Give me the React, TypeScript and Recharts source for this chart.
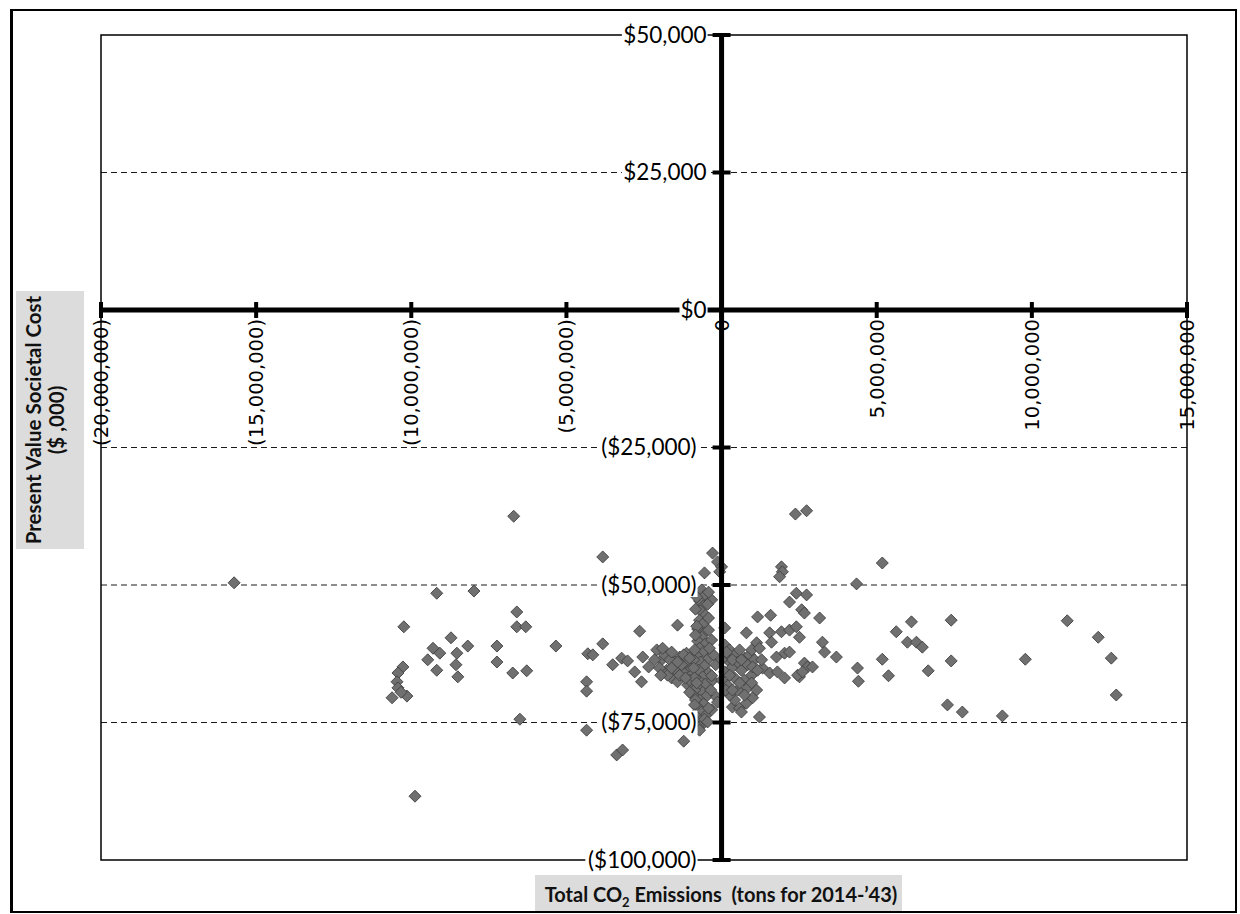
import React from 'react';
import {
  ScatterChart,
  Scatter,
  XAxis,
  YAxis,
  ReferenceLine,
  ReferenceDot,
  ReferenceArea,
} from 'recharts';

// Total CO2 emissions (tons, 2014-'43) for each scenario
const emissions: number[] = [
  -15.71e6, -10.24e6, -10.27e6, -10.43e6, -10.46e6, -10.43e6, -10.62e6, -10.14e6, -10.33e6, -9.88e6,
  -9.18e6, -7.98e6, -8.72e6, -8.18e6, -9.3e6, -9.08e6, -9.47e6, -8.53e6, -8.56e6, -8.5e6,
  -9.18e6, -7.24e6, -7.24e6, -6.73e6, -6.28e6, -6.7e6, -6.6e6, -6.6e6, -6.31e6, -6.5e6,
  -5.34e6, -3.83e6, -4.35e6, -4.35e6, -4.35e6, -3.38e6, -3.19e6, -4.31e6, -4.15e6, -3.83e6,
  -3.51e6, -3.22e6, -3.03e6, -2.8e6, -2.58e6, -2.54e6, -2.35e6, -2.64e6, -1.42e6, -1.22e6,
  -0.55e6, -0.29e6, -0.13e6, 0.0, -0.06e6,
  -0.64e6, -0.55e6, -0.71e6, -0.58e6, -0.68e6, -0.52e6, -0.71e6, -0.61e6, -0.77e6, -0.55e6,
  -0.64e6, -0.77e6, -0.52e6, -0.71e6, -0.58e6, -0.8e6, -0.45e6, -0.68e6, -0.55e6, -0.74e6,
  -0.42e6, -0.61e6, -0.71e6, -0.52e6, -0.77e6, -0.61e6, -0.48e6, -0.71e6, -0.58e6, -0.74e6,
  -0.64e6, -0.52e6, -0.71e6, -0.61e6, -0.77e6,
  -0.32e6, -0.32e6, -0.26e6, -0.19e6, -0.29e6, -0.16e6, -0.13e6, -0.32e6, -0.55e6,
  -2.09e6, -1.93e6, -1.77e6, -1.61e6, -1.42e6, -1.74e6, -1.35e6, -1.13e6, -1.03e6, -1.26e6,
  -1.51e6, -1.19e6, -0.97e6, -1.09e6, -0.9e6, -2.0e6, -1.84e6, -1.67e6, -1.48e6, -1.29e6,
  -1.03e6, -0.87e6, -0.93e6, -0.84e6,
  0.1e6, 0.26e6, 0.42e6, 0.58e6, 0.19e6, 0.52e6, 0.74e6, 0.9e6, 0.32e6, 0.64e6,
  0.84e6, 1.06e6, 0.1e6, 0.42e6, 0.74e6, 0.97e6, 0.19e6, 0.52e6, 0.84e6, 0.97e6,
  1.13e6, 0.97e6, 1.22e6, 0.1e6, 0.35e6, 0.58e6, 0.8e6, 1.0e6, 0.42e6, 1.22e6,
  0.26e6, 0.64e6, 0.8e6, 1.55e6, 1.61e6, 1.93e6, 2.19e6, 2.41e6, 2.51e6, 1.16e6,
  1.58e6, 2.41e6, 2.74e6, 2.19e6, 2.58e6, 2.67e6, 3.16e6, 3.25e6, 3.32e6, 3.7e6,
  1.77e6, 2.03e6, 2.19e6, 1.0e6, 1.32e6, 1.55e6, 1.8e6, 2.03e6, 2.51e6, 2.67e6,
  2.77e6, 2.93e6, 2.45e6, 2.61e6, 1.93e6, 1.96e6, 1.87e6, 2.38e6, 2.74e6,
  4.35e6, 5.18e6, 6.12e6, 7.4e6, 11.14e6, 5.63e6, 12.14e6, 5.99e6, 6.28e6, 6.47e6,
  5.18e6, 7.4e6, 9.79e6, 12.56e6, 5.38e6, 6.66e6, 4.38e6, 4.41e6, 12.72e6, 7.28e6,
  7.76e6, 9.05e6,
  -0.42e6, -0.8e6, -0.45e6, -0.84e6, -0.42e6, -0.8e6, -0.42e6, -0.84e6, -0.39e6, -0.87e6,
  -0.9e6, -0.32e6, -0.87e6, -0.35e6, -0.87e6, -0.42e6, -0.87e6, -0.45e6, -0.93e6, -0.71e6,
  -2.16e6, -1.9e6, -1.61e6, -1.42e6, -1.22e6, -1.03e6, -1.61e6, -1.35e6, -1.16e6, -1.96e6,
  -0.8e6, -1.03e6,
  0.16e6, 0.35e6, 0.64e6, 0.26e6, 0.58e6, 0.0, 0.0, 0.13e6, 1.13e6, 0.35e6,
  0.74e6, 1.16e6, 1.29e6,
];

// Present value societal cost ($ ,000) for each scenario
const societalCost: number[] = [
  -49600, -57600, -64900, -66000, -67600, -68700, -70500, -70200, -69500, -88400,
  -51500, -51100, -59600, -61100, -61500, -62400, -63600, -62400, -64500, -66700,
  -65500, -61100, -64000, -66000, -65600, -37500, -54900, -57600, -57600, -74400,
  -61100, -44900, -67600, -69300, -76400, -80900, -80000, -62500, -62700, -60700,
  -64500, -63300, -63800, -65800, -67600, -63100, -64900, -58400, -57300, -78400,
  -47800, -44200, -45800, -46700, -47600,
  -50900, -52000, -52900, -53800, -54700, -55500, -56400, -57100, -58000, -58700,
  -59500, -60200, -60700, -61500, -62200, -62900, -63500, -64000, -64700, -65500,
  -66000, -66700, -67500, -68000, -68700, -69500, -70200, -70900, -71600, -72400,
  -73100, -73800, -74500, -75300, -75800,
  -52700, -60000, -62700, -64500, -67300, -70400, -71300, -72700, -74400,
  -61800, -63600, -65500, -66900, -67600, -66400, -63100, -62400, -64900, -65800,
  -64000, -64200, -66400, -68200, -63600, -65100, -62700, -63600, -65500, -64500,
  -67300, -69100, -70000, -70900,
  -60900, -61800, -62700, -61800, -63600, -64000, -63300, -62700, -65100, -65500,
  -64500, -63600, -65800, -66900, -67300, -66400, -68200, -69100, -68700, -67800,
  -60500, -61800, -61500, -57800, -72200, -72400, -71500, -70500, -70900, -74000,
  -70000, -73100, -58700, -58700, -60400, -58500, -58200, -57600, -59500, -55800,
  -55500, -51500, -51800, -53100, -54500, -55100, -56000, -60400, -62200, -63100,
  -63100, -62400, -62200, -64900, -65100, -66000, -65800, -66900, -66700, -64200,
  -64900, -64900, -66400, -65800, -46700, -47600, -48500, -37100, -36500,
  -49800, -46000, -56700, -56400, -56500, -58500, -59500, -60400, -60400, -61300,
  -63500, -63800, -63500, -63300, -66500, -65600, -65100, -67500, -70000, -71800,
  -73100, -73800,
  -51300, -52200, -53500, -54400, -56000, -57500, -58200, -59100, -61500, -61800,
  -65100, -66500, -66900, -69100, -71800, -72400, -73600, -74900, -74900, -76400,
  -63600, -61500, -62200, -64000, -62700, -63300, -65100, -66400, -66900, -66400,
  -67800, -69500,
  -62200, -63600, -63600, -66400, -67800, -63600, -67300, -69100, -69100, -69100,
  -70000, -65500, -63600,
];

const xTicks: number[] = [-20e6, -15e6, -10e6, -5e6, 0, 5e6, 10e6, 15e6];
const yTicks: number[] = [50000, 25000, 0, -25000, -50000, -75000, -100000];
const gridValues: number[] = [25000, -25000, -50000, -75000];
const xDomain: [number, number] = [-20e6, 15e6];
const yDomain: [number, number] = [-100000, 50000];

const yTitleLines = ['Present Value Societal Cost', '($ ,000)'];
const xTitle = 'Total CO';
const xTitleSub = '2';
const xTitleRest = ' Emissions  (tons for 2014-\u201943)';

const points = emissions.map((x, i) => ({ x, y: societalCost[i] }));

const fmtX = (v: number) => {
  const s = Math.abs(v).toLocaleString('en-US');
  return v < 0 ? `(${s})` : s;
};
const fmtY = (v: number) => {
  const s = '$' + Math.abs(v).toLocaleString('en-US');
  return v < 0 ? `(${s})` : s;
};

const Y_FONT = 22.5;
const charW = (c: string) => {
  if (c === '(' || c === ')') return 0.3;
  if (c === ',') return 0.24;
  return 0.58;
};
const textWidth = (s: string, fs: number) =>
  s.split('').reduce((a, c) => a + charW(c), 0) * fs;

const Diamond = (props: any) => {
  const { cx, cy } = props;
  if (cx == null || cy == null) return null;
  const r = 6;
  return (
    <polygon
      points={`${cx},${cy - r} ${cx + r},${cy} ${cx},${cy + r} ${cx - r},${cy}`}
      fill="#707070"
      stroke="#404040"
      strokeWidth={0.9}
    />
  );
};

const YTick = ({ cx, cy, value }: any) => {
  const label = fmtY(value);
  const end = value < 0 ? cx - 25 : cx - 15;
  const w = textWidth(label, Y_FONT);
  return (
    <g>
      <rect x={end - w - 1} y={cy - 12} width={w + 2} height={24} fill="#ffffff" />
      <text
        x={end}
        y={cy}
        dy="0.35em"
        textAnchor="end"
        fontFamily="Lato, 'Open Sans', sans-serif"
        fontSize={Y_FONT}
        fill="#000"
      >
        {label}
      </text>
      <line x1={cx - 9} x2={cx + 9} y1={cy} y2={cy} stroke="#000" strokeWidth={4} />
    </g>
  );
};

const XTick = ({ cx, cy, value }: any) => {
  const label = fmtX(value);
  const ay = cy + 9;
  return (
    <g>
      <line x1={cx} x2={cx} y1={cy - 8} y2={cy + 8} stroke="#000" strokeWidth={4} />
      <text
        x={cx}
        y={ay}
        dy="0.36em"
        textAnchor="end"
        transform={`rotate(-90 ${cx} ${ay})`}
        fontFamily="'DejaVu Sans', Verdana, sans-serif"
        fontSize={19.5}
        fill="#000"
      >
        {label}
      </text>
    </g>
  );
};

export default function App() {
  return (
    <div
      style={{
        position: 'absolute',
        left: 0,
        top: 0,
        width: 1240,
        height: 914,
        background: '#fff',
        overflow: 'hidden',
      }}
    >
      <div
        style={{
          position: 'absolute',
          left: 10,
          top: 9,
          width: 1227,
          height: 904,
          boxSizing: 'border-box',
          borderTop: '2px solid #000',
          borderRight: '2px solid #000',
          borderBottom: '2px solid #000',
          borderLeft: '3px solid #000',
        }}
      />
      <div style={{ position: 'absolute', left: 0, top: 0 }}>
        <ScatterChart
          width={1240}
          height={914}
          margin={{ top: 35, right: 53, bottom: 54, left: 101 }}
        >
          <XAxis
            type="number"
            dataKey="x"
            domain={xDomain}
            ticks={xTicks}
            allowDataOverflow
            hide
            height={0}
          />
          <YAxis
            type="number"
            dataKey="y"
            domain={yDomain}
            ticks={yTicks}
            allowDataOverflow
            hide
            width={0}
          />
          {gridValues.map((v) => (
            <ReferenceLine
              key={`g${v}`}
              y={v}
              stroke="#1a1a1a"
              strokeWidth={1}
              strokeDasharray="6 4"
              zIndex={-10}
            />
          ))}
          <ReferenceArea
            x1={xDomain[0]}
            x2={xDomain[1]}
            y1={yDomain[0]}
            y2={yDomain[1]}
            fill="none"
            fillOpacity={0}
            stroke="#000"
            strokeWidth={1.5}
            zIndex={-5}
          />
          <Scatter
            data={points}
            shape={Diamond}
            isAnimationActive={false}
            zIndex={600}
          />
          <ReferenceLine x={0} stroke="#000" strokeWidth={5} zIndex={700} />
          <ReferenceLine y={0} stroke="#000" strokeWidth={5} zIndex={700} />
          {yTicks.map((v) => (
            <ReferenceDot
              key={`yt${v}`}
              x={0}
              y={v}
              r={1}
              zIndex={800}
              shape={(p: any) => <YTick cx={p.cx} cy={p.cy} value={v} />}
            />
          ))}
          {xTicks.map((v) => (
            <ReferenceDot
              key={`xt${v}`}
              x={v}
              y={0}
              r={1}
              zIndex={800}
              shape={(p: any) => <XTick cx={p.cx} cy={p.cy} value={v} />}
            />
          ))}
        </ScatterChart>
      </div>
      <svg
        width={1240}
        height={914}
        style={{ position: 'absolute', left: 0, top: 0, pointerEvents: 'none' }}
      >
        <rect x={16} y={291} width={68} height={258} fill="#dcdcdc" />
        <text
          transform="translate(41 420) rotate(-90)"
          textAnchor="middle"
          fontFamily="Lato, 'Open Sans', sans-serif"
          fontWeight="bold"
          fontSize={20.5}
          fill="#111"
        >
          {yTitleLines[0]}
        </text>
        <text
          transform="translate(64 420) rotate(-90)"
          textAnchor="middle"
          fontFamily="Lato, 'Open Sans', sans-serif"
          fontWeight="bold"
          fontSize={20.5}
          fill="#111"
        >
          {yTitleLines[1]}
        </text>
        <rect x={535} y={875} width={367} height={36} fill="#dcdcdc" />
        <text
          x={721}
          y={902}
          textAnchor="middle"
          fontFamily="Lato, 'Open Sans', sans-serif"
          fontWeight="bold"
          fontSize={20}
          fill="#111"
          style={{ whiteSpace: 'pre' }}
        >
          {xTitle}
          <tspan fontSize={13} dy={5}>
            {xTitleSub}
          </tspan>
          <tspan dy={-5}>{xTitleRest}</tspan>
        </text>
      </svg>
    </div>
  );
}
